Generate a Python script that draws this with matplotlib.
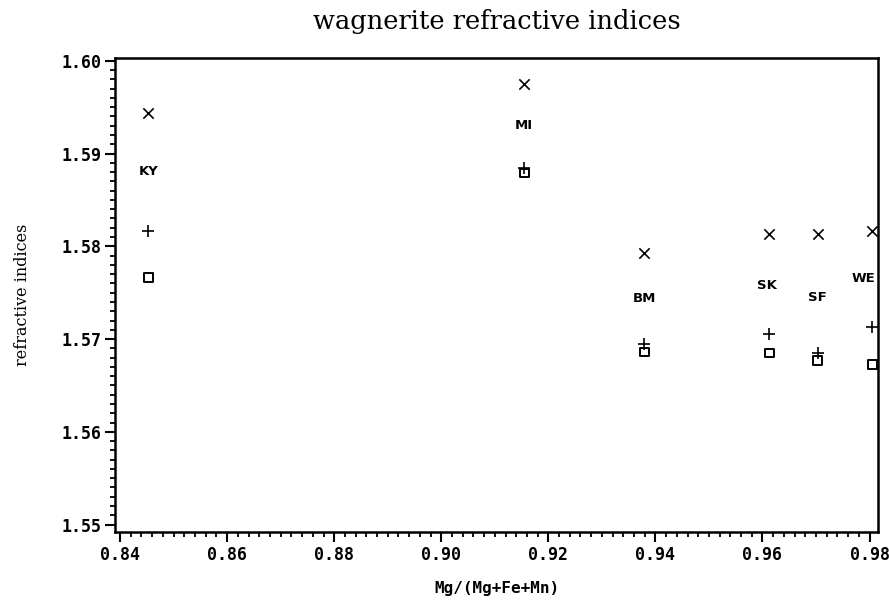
import numpy as np
import matplotlib
matplotlib.use("Agg")
import matplotlib.pyplot as plt
from matplotlib.ticker import MultipleLocator, FormatStrFormatter

# sample ids and Mg/(Mg+Fe+Mn)
samples = ["KY", "MI", "BM", "SK", "SF", "WE"]
mg_ratio = [0.8453, 0.9155, 0.9379, 0.9613, 0.9703, 0.9805]

# refractive indices
n_gamma = [1.5944, 1.5975, 1.5793, 1.5813, 1.5813, 1.5816]   # x
n_beta = [1.5816, 1.5884, 1.5695, 1.5705, 1.5685, 1.5713]    # +
n_alpha = [1.5766, 1.5879, 1.5686, 1.5685, 1.5677, 1.5673]   # square
label_y = [1.5881, 1.5930, 1.5744, 1.5758, 1.5745, 1.5765]

# small horizontal nudges of the sample names (points)
label_dx = {"SK": -2, "WE": -6}

fig = plt.figure(figsize=(8.89, 6.06), dpi=100)
ax = fig.add_axes([0.1294, 0.1221, 0.8582, 0.7822])

ax.scatter(mg_ratio, n_gamma, marker="x", s=55, c="black", linewidths=1.2)
ax.scatter(mg_ratio, n_beta, marker="+", s=70, c="black", linewidths=1.2)
ax.scatter(mg_ratio, n_alpha, marker="s", s=40, facecolors="none",
           edgecolors="black", linewidths=1.4)

for name, xv, yv in zip(samples, mg_ratio, label_y):
    ax.annotate(name, (xv, yv), xytext=(label_dx.get(name, 0), 0),
                textcoords="offset points", ha="center", va="center",
                fontsize=9.5, fontweight="heavy", family="DejaVu Sans")

ax.set_xlim(0.83906, 0.98157)
ax.set_ylim(1.5492, 1.6003)

ax.xaxis.set_major_locator(MultipleLocator(0.02))
ax.xaxis.set_minor_locator(MultipleLocator(0.002))
ax.yaxis.set_major_locator(MultipleLocator(0.01))
ax.yaxis.set_minor_locator(MultipleLocator(0.001))
ax.xaxis.set_major_formatter(FormatStrFormatter("%.2f"))
ax.yaxis.set_major_formatter(FormatStrFormatter("%.2f"))

ax.tick_params(axis="both", which="major", direction="out", length=7,
               width=1.5, labelsize=12, pad=3)
ax.tick_params(axis="both", which="minor", direction="out", length=3.5,
               width=1.3)
for lab in ax.get_xticklabels() + ax.get_yticklabels():
    lab.set_family("DejaVu Sans Mono")
    lab.set_fontweight("bold")

for sp in ax.spines.values():
    sp.set_linewidth(1.8)

ax.set_xlabel("Mg/(Mg+Fe+Mn)", fontsize=11.5, family="DejaVu Sans Mono",
              fontweight="bold", labelpad=12)
ax.set_ylabel("refractive indices", fontsize=11.5, family="DejaVu Serif",
              labelpad=22)
ax.set_title("wagnerite refractive indices", fontsize=18.5,
             family="DejaVu Serif", pad=21)

fig.savefig("out.png", dpi=100)
